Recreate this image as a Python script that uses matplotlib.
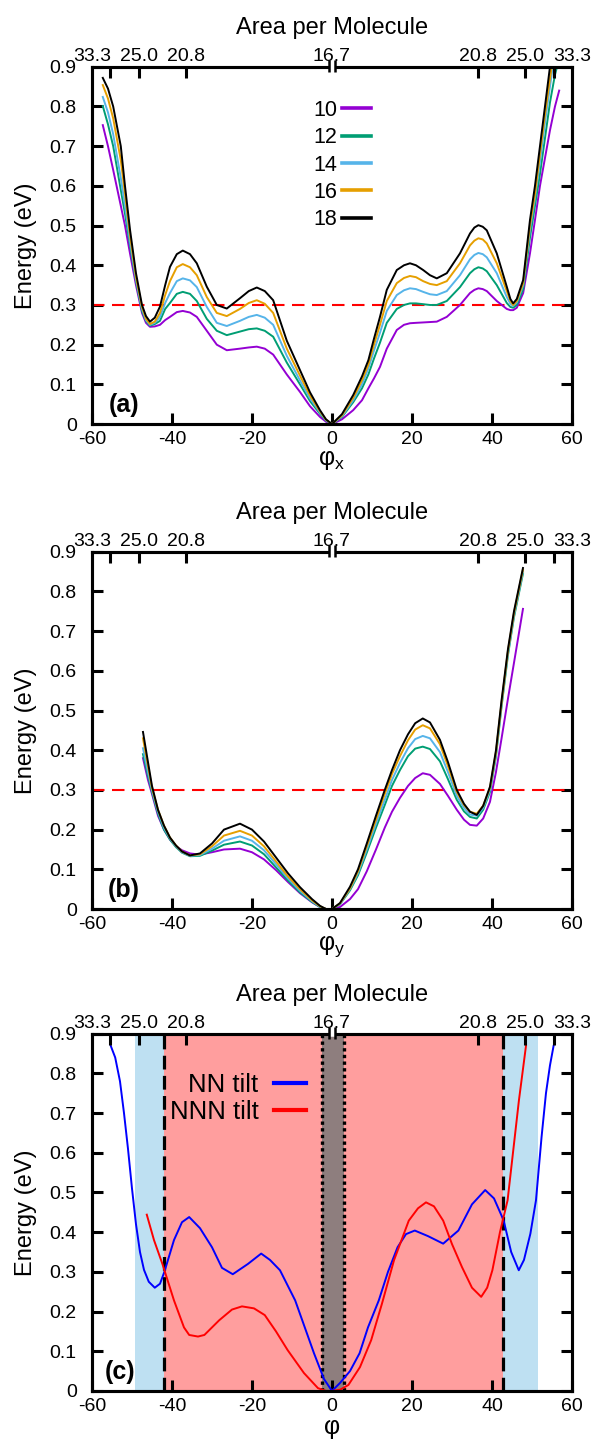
import matplotlib
matplotlib.use('Agg')
import matplotlib.pyplot as plt
import numpy as np
from matplotlib.lines import Line2D
from matplotlib.transforms import blended_transform_factory

plt.rcParams['font.family'] = ['Liberation Sans', 'DejaVu Sans']
plt.rcParams['mathtext.fontset'] = 'custom'
plt.rcParams['mathtext.rm'] = 'Liberation Sans'
plt.rcParams['mathtext.it'] = 'Liberation Sans:italic'
plt.rcParams['axes.unicode_minus'] = False

# ---- data ----
chain_labels = ['10', '12', '14', '16', '18']
chain_colors = ['#9400d3', '#009e73', '#56b4e9', '#e69f00', '#000000']

# panel (a): energy vs phi_x
phi_a = [-57.3, -56, -54.7, -52.8, -51.75, -50.5, -49, -47.5, -46.5, -45.5, -44.3, -43, -41.7,
         -40.5, -38.8, -37.3, -35.5, -33.8, -31.3, -28.8, -26.3, -23, -20.8, -18.8, -16.8,
         -14.7, -11.3, -8, -5.5, -3, -1.5,
         0, 2.5, 5.3, 7.5, 9.1, 10.5, 12, 13.7, 16.2, 18, 19.5, 21, 22.8, 24.5, 26.2, 28.7,
         32, 34.5, 35.6, 36.6, 37.7, 38.7, 41.2, 43.7, 44.6, 45.3, 46.2, 47.8, 49.5, 50.75,
         52, 53.25, 54.5, 55.75, 56.8]
E_a_10 = [0.753, 0.70, 0.64, 0.55, 0.50, 0.43, 0.35, 0.28, 0.255, 0.245, 0.246, 0.25, 0.262,
          0.27, 0.282, 0.285, 0.281, 0.27, 0.235, 0.20, 0.186, 0.19, 0.193, 0.195, 0.19,
          0.175, 0.125, 0.081, 0.045, 0.018, 0.006,
          0, 0.012, 0.035, 0.06, 0.09, 0.115, 0.144, 0.19, 0.237, 0.25, 0.254, 0.255, 0.256,
          0.257, 0.258, 0.27, 0.30, 0.33, 0.338, 0.342, 0.34, 0.335, 0.31, 0.29, 0.287,
          0.287, 0.293, 0.33, 0.43, 0.514, 0.60, 0.67, 0.74, 0.80, 0.84]
E_a_12 = [0.801, 0.755, 0.70, 0.59, 0.53, 0.45, 0.36, 0.285, 0.26, 0.248, 0.252, 0.26, 0.29,
          0.305, 0.328, 0.333, 0.328, 0.31, 0.265, 0.235, 0.224, 0.233, 0.239, 0.241, 0.235,
          0.22, 0.155, 0.10, 0.058, 0.026, 0.009,
          0, 0.018, 0.055, 0.09, 0.125, 0.165, 0.205, 0.255, 0.29, 0.30, 0.304, 0.304, 0.302,
          0.30, 0.30, 0.31, 0.345, 0.38, 0.39, 0.395, 0.392, 0.385, 0.35, 0.305, 0.295,
          0.293, 0.30, 0.34, 0.47, 0.55, 0.63, 0.72, 0.81, 0.88, 0.92]
E_a_14 = [0.824, 0.785, 0.73, 0.62, 0.55, 0.46, 0.365, 0.29, 0.262, 0.25, 0.255, 0.27, 0.305,
          0.33, 0.36, 0.367, 0.362, 0.345, 0.295, 0.255, 0.247, 0.26, 0.27, 0.275, 0.268,
          0.25, 0.172, 0.11, 0.065, 0.029, 0.01,
          0, 0.02, 0.06, 0.10, 0.14, 0.185, 0.23, 0.285, 0.325, 0.337, 0.342, 0.34, 0.333,
          0.327, 0.325, 0.335, 0.375, 0.415, 0.426, 0.431, 0.428, 0.42, 0.38, 0.32, 0.303,
          0.298, 0.306, 0.35, 0.49, 0.57, 0.66, 0.76, 0.85, 0.94, 1.0]
E_a_16 = [0.854, 0.82, 0.77, 0.665, 0.58, 0.475, 0.37, 0.295, 0.265, 0.252, 0.258, 0.28, 0.325,
          0.36, 0.395, 0.403, 0.395, 0.375, 0.32, 0.28, 0.272, 0.29, 0.305, 0.312, 0.303,
          0.28, 0.19, 0.122, 0.072, 0.032, 0.011,
          0, 0.022, 0.066, 0.11, 0.15, 0.20, 0.25, 0.31, 0.355, 0.368, 0.373, 0.37, 0.36,
          0.353, 0.350, 0.36, 0.405, 0.45, 0.462, 0.468, 0.465, 0.455, 0.405, 0.335, 0.31,
          0.30, 0.31, 0.355, 0.50, 0.58, 0.68, 0.78, 0.87, 0.96, 1.03]
E_a_18 = [0.872, 0.845, 0.80, 0.70, 0.60, 0.49, 0.38, 0.30, 0.272, 0.258, 0.268, 0.296, 0.35,
          0.396, 0.428, 0.437, 0.428, 0.405, 0.346, 0.30, 0.291, 0.317, 0.335, 0.344, 0.335,
          0.312, 0.21, 0.136, 0.08, 0.035, 0.012,
          0, 0.025, 0.073, 0.12, 0.161, 0.215, 0.27, 0.338, 0.388, 0.40, 0.405, 0.40, 0.388,
          0.375, 0.367, 0.380, 0.43, 0.48, 0.495, 0.501, 0.497, 0.488, 0.43, 0.346, 0.315,
          0.304, 0.315, 0.363, 0.514, 0.60, 0.70, 0.80, 0.90, 1.0, 1.08]

# panel (b): energy vs phi_y
phi_b = [-47.25, -46, -45, -43.5, -42, -40.5, -39, -37.5, -35.5, -33, -30, -27, -23, -20,
         -17, -14, -11, -8, -5, -3, -1.5, 0,
         2, 4.5, 6.5, 8.7, 11, 13.2, 15, 17, 19, 20.8, 22.7, 24.5, 27, 29, 31.2, 33, 34.5,
         36.2, 37.8, 39.5, 41, 42.4, 44, 45.5, 47.75]
E_b_10 = [0.38, 0.325, 0.29, 0.235, 0.2, 0.175, 0.158, 0.148, 0.14, 0.137, 0.143, 0.15, 0.152, 0.143,
          0.125, 0.098, 0.068, 0.04, 0.017, 0.005, 0, 0,
          0.005, 0.025, 0.05, 0.095, 0.15, 0.205, 0.245, 0.28, 0.31, 0.33, 0.342, 0.338, 0.315, 0.285,
          0.25, 0.225, 0.212, 0.21, 0.228, 0.27, 0.345, 0.43, 0.53, 0.62, 0.756]
E_b_12 = [0.39, 0.335, 0.295, 0.24, 0.2, 0.175, 0.156, 0.142, 0.133, 0.134, 0.147, 0.162, 0.17, 0.16,
          0.138, 0.105, 0.072, 0.042, 0.018, 0.005, 0, 0,
          0.012, 0.047, 0.085, 0.142, 0.205, 0.262, 0.31, 0.35, 0.385, 0.404, 0.409, 0.403, 0.372, 0.327,
          0.275, 0.246, 0.232, 0.228, 0.25, 0.295, 0.385, 0.51, 0.64, 0.735, 0.845]
E_b_14 = [0.405, 0.345, 0.30, 0.245, 0.205, 0.178, 0.158, 0.143, 0.134, 0.136, 0.152, 0.172, 0.183, 0.172,
          0.148, 0.113, 0.077, 0.046, 0.02, 0.006, 0, 0,
          0.013, 0.05, 0.09, 0.15, 0.215, 0.275, 0.325, 0.368, 0.405, 0.428, 0.436, 0.43, 0.395, 0.345,
          0.285, 0.255, 0.238, 0.235, 0.255, 0.30, 0.39, 0.515, 0.645, 0.74, 0.85]
E_b_16 = [0.43, 0.36, 0.305, 0.25, 0.21, 0.18, 0.16, 0.145, 0.135, 0.138, 0.158, 0.185, 0.197, 0.185,
          0.158, 0.12, 0.082, 0.05, 0.022, 0.007, 0, 0,
          0.014, 0.052, 0.095, 0.158, 0.225, 0.29, 0.34, 0.385, 0.425, 0.452, 0.463, 0.455, 0.415, 0.36,
          0.295, 0.262, 0.245, 0.24, 0.26, 0.305, 0.395, 0.52, 0.65, 0.745, 0.855]
E_b_18 = [0.446, 0.37, 0.31, 0.25, 0.21, 0.18, 0.16, 0.145, 0.135, 0.14, 0.165, 0.20, 0.215, 0.20,
          0.17, 0.13, 0.09, 0.055, 0.025, 0.008, 0, 0,
          0.015, 0.056, 0.10, 0.165, 0.235, 0.30, 0.35, 0.40, 0.44, 0.468, 0.480, 0.47, 0.426, 0.37,
          0.30, 0.265, 0.245, 0.237, 0.26, 0.308, 0.40, 0.526, 0.655, 0.75, 0.859]

# panel (c): NN and NNN tilt
phi_nn = [-55.3, -54.2, -53, -52, -51, -50, -49, -48, -47, -45.8, -44.3, -43, -41.9, -39.5,
          -37.5, -35.7, -33, -30, -27.5, -24.8, -21, -17.7, -15.5, -13, -9.2, -4.5, -2, 0,
          2, 4.5, 6.9, 9, 11.7, 14, 16.4, 18.5, 20.7, 24, 27.8, 31.6, 35, 38.3, 40.5, 42.9,
          44.8, 46.7, 48, 49.6, 51, 52.4, 53.5, 54.5, 55.4]
E_nn = [0.869, 0.84, 0.78, 0.70, 0.61, 0.51, 0.42, 0.35, 0.305, 0.275, 0.26, 0.27, 0.30, 0.38,
        0.425, 0.438, 0.41, 0.362, 0.31, 0.294, 0.32, 0.346, 0.33, 0.304, 0.228, 0.095, 0.03, 0,
        0.02, 0.05, 0.095, 0.16, 0.228, 0.30, 0.362, 0.395, 0.404, 0.39, 0.371, 0.404, 0.47,
        0.506, 0.485, 0.43, 0.35, 0.304, 0.33, 0.396, 0.48, 0.64, 0.75, 0.82, 0.869]
phi_nnn = [-46.3, -44.5, -42.4, -39.5, -37, -35.7, -33.5, -31.9, -28.2, -25, -22.5, -19.5, -16.8,
           -14, -11.1, -7, -3.5, -1.5, 0, 2, 4.1, 7, 9.8, 12.5, 15.5, 19.2, 21.5, 23.5, 25.5,
           27.8, 30, 32.5, 35, 37.3, 38.8, 40.1, 42, 43.9, 46.75, 48.5]
E_nnn = [0.444, 0.38, 0.32, 0.228, 0.16, 0.141, 0.137, 0.141, 0.178, 0.205, 0.213, 0.208, 0.191,
         0.15, 0.103, 0.045, 0.007, 0.0, 0, 0.003, 0.015, 0.06, 0.128, 0.22, 0.329, 0.429, 0.46,
         0.475, 0.465, 0.429, 0.37, 0.312, 0.26, 0.237, 0.26, 0.304, 0.40, 0.48, 0.733, 0.869]
tilt_labels = ['NN tilt', 'NNN tilt']
tilt_colors = ['#0000ff', '#ff0000']

# shaded phi ranges in (c)
blue_span = (-49.2, 51.5)
red_span = (-42.0, 42.75)
gray_span = (-2.5, 3.0)

# top axis: area per molecule
area_pos = [-60, -48.2, -36.5, 0, 36.5, 48.2, 60]
area_labels = ['33.3', '25.0', '20.8', '16.7', '20.8', '25.0', '33.3']
area_minor = [-55.6, 55.6]

x_ticks = [-60, -40, -20, 0, 20, 40, 60]
y_ticks = [0, 0.1, 0.2, 0.3, 0.4, 0.5, 0.6, 0.7, 0.8, 0.9]
y_labels = ['0', '0.1', '0.2', '0.3', '0.4', '0.5', '0.6', '0.7', '0.8', '0.9']

LW = 2.2


def style_axes(ax, xlabel, tag, tag_xy):
    ax.set_xlim(-60, 60)
    ax.set_ylim(0, 0.9)
    ax.set_xticks(x_ticks)
    ax.set_yticks(y_ticks)
    ax.set_yticklabels(y_labels)
    ax.tick_params(direction='in', length=8, width=LW, labelsize=14, top=False, right=True)
    ax.tick_params(axis='x', pad=5)
    ax.tick_params(axis='y', pad=11)
    for s in ax.spines.values():
        s.set_linewidth(LW)
    ax.set_xlabel(xlabel, fontsize=18, labelpad=0)
    ax.set_ylabel('Energy (eV)', fontsize=17, labelpad=9)
    ax.text(tag_xy[0], tag_xy[1], tag, transform=ax.transAxes, fontsize=18,
            fontweight='bold', ha='center', va='center', zorder=10)

    top = ax.twiny()
    top.set_xlim(-60, 60)
    top.set_xticks(area_pos)
    top.set_xticklabels(area_labels)
    top.set_xticks(area_minor, minor=True)
    top.tick_params(which='both', direction='in', length=8, width=LW, labelsize=14, pad=1)
    for i in (0, 3, 6):
        t = top.xaxis.get_major_ticks()[i]
        t.tick1line.set_visible(False)
        t.tick2line.set_visible(False)
    for s in top.spines.values():
        s.set_linewidth(LW)
    top.set_xlabel('Area per Molecule', fontsize=17, labelpad=10)
    # axis break mark at 16.7
    tr = blended_transform_factory(top.transData, top.transAxes)
    top.plot([-0.7, 0.7], [1, 1], color='white', lw=4, transform=tr, clip_on=False,
             zorder=6, solid_capstyle='butt')
    for xb in (-0.8, 0.8):
        top.plot([xb, xb], [0.986, 1.019], color='black', lw=1.8, transform=tr,
                 clip_on=False, zorder=7, solid_capstyle='butt')
    return top


fig = plt.figure(figsize=(5.95, 14.39), dpi=100)
ax_a = fig.add_axes([0.1546, 0.7053, 0.8067, 0.2483])
ax_b = fig.add_axes([0.1546, 0.3683, 0.8067, 0.2483])
ax_c = fig.add_axes([0.1546, 0.0334, 0.8067, 0.2483])

# (a)
for E, c in zip([E_a_10, E_a_12, E_a_14, E_a_16, E_a_18], chain_colors):
    ax_a.plot(phi_a, E, color=c, lw=1.4, zorder=3)
ax_a.axhline(0.3, color='red', lw=1.5, ls=(0, (6, 3.6)), zorder=2)
style_axes(ax_a, 'φ$_{\\rm x}$', '(a)', (0.067, 0.052))
handles = [Line2D([], [], color=c, lw=2.6) for c in chain_colors]
ax_a.legend(handles, chain_labels, loc='upper right', bbox_to_anchor=(0.582, 0.908),
            frameon=False, markerfirst=False, fontsize=15.5, handlelength=1.35,
            handletextpad=0.25, labelspacing=0.3, borderpad=0, borderaxespad=0)

# (b)
for E, c in zip([E_b_10, E_b_12, E_b_14, E_b_16, E_b_18], chain_colors):
    ax_b.plot(phi_b, E, color=c, lw=1.4, zorder=3)
ax_b.axhline(0.3, color='red', lw=1.5, ls=(0, (6, 3.6)), zorder=2)
style_axes(ax_b, 'φ$_{\\rm y}$', '(b)', (0.067, 0.052))

# (c)
ax_c.axvspan(*blue_span, color='#bee0f2', lw=0, zorder=0)
ax_c.axvspan(*red_span, color='#ff9e9e', lw=0, zorder=0.5)
ax_c.axvspan(*gray_span, color='#8e7e7e', lw=0, zorder=0.6)
for xv in red_span:
    ax_c.axvline(xv, color='black', lw=2.3, ls=(0, (4.3, 2.0)), zorder=1)
for xv in gray_span:
    ax_c.axvline(xv, color='black', lw=2.4, ls=(0, (1, 1)), zorder=1)
ax_c.plot(phi_nn, E_nn, color=tilt_colors[0], lw=1.4, zorder=3)
ax_c.plot(phi_nnn, E_nnn, color=tilt_colors[1], lw=1.4, zorder=3)
style_axes(ax_c, 'φ', '(c)', (0.058, 0.054))
handles = [Line2D([], [], color=c, lw=3) for c in tilt_colors]
ax_c.legend(handles, tilt_labels, loc='upper right', bbox_to_anchor=(0.446, 0.889),
            frameon=False, markerfirst=False, fontsize=18.5, handlelength=1.25,
            handletextpad=0.6, labelspacing=0.1, borderpad=0, borderaxespad=0)

fig.savefig('out.png', dpi=100)
